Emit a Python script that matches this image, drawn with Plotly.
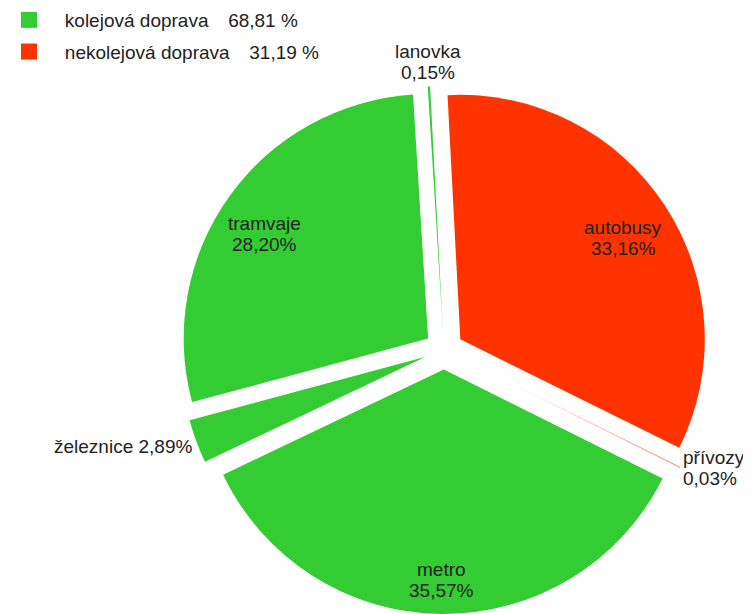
import math
import plotly.graph_objects as go

# ---- data ----
labels = ["autobusy", "přívozy", "metro", "železnice", "tramvaje", "lanovka"]
shares = [33.16, 0.03, 35.57, 2.89, 28.20, 0.15]
group_names = ["kolejová doprava", "nekolejová doprava"]
group_shares = [68.81, 31.19]

# ---- style ----
GREEN = "#33cc33"
RED = "#ff3300"
slice_colors = [RED, RED, GREEN, GREEN, GREEN, GREEN]
group_colors = [GREEN, RED]
TEXT = "#222222"
FONT = "Liberation Sans, Arial, sans-serif"

# the page body keeps its default 8px margin, so the figure is 8px smaller
W, H = 743, 606
ROT = -3
PULL = 0.08
dom_x = [0.2315, 0.9421]
dom_y = [0.0, 0.8713]

label_rad = [0.786, 1.005, 0.861, 1.018, 0.796, 1.10]
label_dang = [1.3, 0.0, 0.0, -0.9, -2.9, 0.0]
label_xanchor = ["center", "left", "center", "right", "center", "center"]
label_two_lines = [True, True, True, False, True, True]
LINE_HALF = 10.5
LABEL_SIZE = 19
SP = "\u00a0"


def fmt(v):
    return f"{v:.2f}".replace(".", ",")


fig = go.Figure()
fig.add_trace(go.Pie(
    labels=labels, values=shares, sort=False, direction="clockwise",
    rotation=ROT, pull=PULL,
    marker=dict(colors=slice_colors, line=dict(width=0)),
    textinfo="none", hoverinfo="label+percent", showlegend=False,
    domain=dict(x=dom_x, y=dom_y),
))

for name, v, c in zip(group_names, group_shares, group_colors):
    fig.add_trace(go.Scatter(
        x=[None], y=[None], mode="markers",
        marker=dict(symbol="square", size=16, color=c, line=dict(width=0)),
        name=SP * 3 + name + SP * 3 + "\u2009" + fmt(v) + " %",
        legendgroup=name, hoverinfo="skip",
    ))

# geometry as plotly computes it
box_w = W * (dom_x[1] - dom_x[0])
box_h = H * (dom_y[1] - dom_y[0])
r = min(box_w, box_h) / 2 / (1 + PULL)
cx = W * (dom_x[0] + dom_x[1]) / 2
cy = H * (1 - dom_y[0]) - box_h / 2
total = sum(shares)

annotations = []
cum = 0.0
for i, (lab, v) in enumerate(zip(labels, shares)):
    mid = math.radians(ROT + 360.0 * (cum + v / 2) / total + label_dang[i])
    cum += v
    dist = PULL * r + label_rad[i] * r
    px = cx + dist * math.sin(mid)
    py = cy - dist * math.cos(mid)
    base = dict(x=px / W, y=1 - py / H, xref="paper", yref="paper",
                showarrow=False, xanchor=label_xanchor[i], yanchor="middle",
                font=dict(size=LABEL_SIZE, color=TEXT, family=FONT))
    if label_two_lines[i]:
        annotations.append(dict(base, text=lab, yshift=LINE_HALF))
        annotations.append(dict(base, text=fmt(v) + "%", yshift=-LINE_HALF))
    else:
        annotations.append(dict(base, text=lab + " " + fmt(v) + "%"))

fig.update_layout(
    width=W, height=H,
    margin=dict(l=0, r=0, t=0, b=0, autoexpand=False),
    paper_bgcolor="white", plot_bgcolor="white",
    font=dict(family=FONT, color=TEXT),
    xaxis=dict(visible=False), yaxis=dict(visible=False),
    showlegend=True,
    legend=dict(x=1 / W, y=1 + 7 / H, xanchor="left", yanchor="top",
                font=dict(size=19, color=TEXT, family=FONT),
                tracegroupgap=4, bgcolor="rgba(0,0,0,0)"),
    annotations=annotations,
)

fig.write_html("out.html")
